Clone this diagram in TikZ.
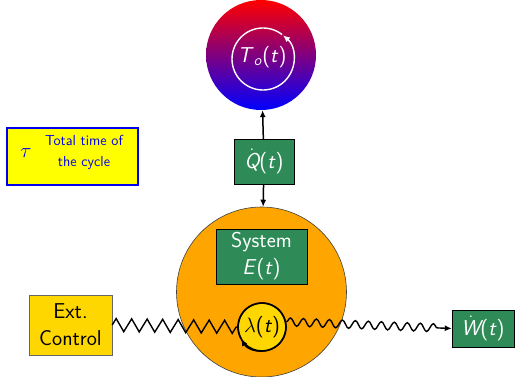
\documentclass[tikz,border=0pt]{standalone}
\usepackage{fontspec}
\usetikzlibrary{arrows.meta,decorations.pathmorphing,calc}
\definecolor{boxgreen}{HTML}{2E8B57}
\definecolor{sysorange}{HTML}{FFA500}
\definecolor{gold}{HTML}{FFD700}
\definecolor{tauyellow}{HTML}{FFFF00}
\definecolor{taublue}{HTML}{0000EE}
\newcommand{\bigfont}{\fontsize{21.5}{27}\selectfont\sffamily}
\newcommand{\smallfont}{\fontsize{14.5}{20.5}\selectfont\sffamily}
\newcommand{\iv}[1]{\textit{#1}}
\newcommand{\dotit}[1]{$\dot{\mbox{\itshape #1}}$}
\begin{document}
\begin{tikzpicture}[x=1pt,y=-1pt,
  greenbox/.style={draw=black, fill=boxgreen, text=white, inner sep=0pt, align=center, font=\bigfont},
  conn/.style={line width=1.5pt, -{Latex[length=7pt,width=6pt]}},
  wire/.style={line width=1.4pt},
]
\useasboundingbox (0,0) rectangle (517,377);
% top shaded circle
\node[circle, minimum size=110pt, inner sep=0pt, top color=red, bottom color=blue] (top) at (261,55) {};
\node[text=white, font=\bigfont] (to) at (262,57) {\iv{T}\textsubscript{\iv{o}}(\iv{t})};
\coordinate (toc) at (263,59);
\draw[white, wire, -{Latex[length=7pt,width=6pt]}] ($(toc)+(-308:31pt)$) arc[start angle=-308, end angle=50, radius=31pt];
% Q box
\node[greenbox, minimum width=60pt, minimum height=45pt] (Q) at (264,161.5) {\dotit{Q}(\iv{t})};
% big system circle
\node[circle, minimum size=170pt, inner sep=0pt, fill=sysorange, draw=black!75, line width=0.6pt] (big) at (261.5,292) {};
\draw[conn] (Q) -- (top);
\draw[conn] (Q) -- (big);
% System box
\node[greenbox, minimum width=91pt, minimum height=55pt] (sys) at (261.5,256.5) {System\\\iv{E}(\iv{t})};
% lambda circle
\node[circle, minimum size=48pt, inner sep=0pt, fill=gold, draw=black, line width=1.6pt, font=\bigfont] (lam) at (262,327) {$\lambda$(\iv{t})};
\draw[wire, -{Latex[length=7pt,width=6pt]}] ($(lam)+(568:24pt)$) arc[start angle=568, end angle=210, radius=24pt];
% Ext control
\node[draw=black!60, fill=gold, minimum width=83pt, minimum height=60pt, inner sep=0pt, align=center, font=\bigfont] (ext) at (70.5,325) {Ext.\\Control};
% W box
\node[greenbox, minimum width=62pt, minimum height=37pt] (W) at (483,328.5) {\dotit{W}(\iv{t})};
% zigzag and snake
\draw[wire, decorate, decoration={zigzag, segment length=15.5pt, amplitude=6.5pt}] (ext.east) -- (lam.west);
\draw[wire, -{Latex[length=7pt,width=6pt]}, decorate, decoration={snake, segment length=13pt, amplitude=4pt, post length=14pt}] (lam.12) -- (W.west);
% tau box
\node[draw=taublue, line width=1.6pt, fill=tauyellow, minimum width=131pt, minimum height=57pt, inner sep=0pt] (taubox) at (72.5,156.5) {};
\node[text=taublue, font=\fontsize{21}{24}\selectfont] (tau) at (26,153) {$\tau$};
\node[text=taublue, font=\smallfont, align=center, inner sep=0pt] (taut) at (84,152.5) {Total time of\\the cycle};
\end{tikzpicture}
\end{document}
